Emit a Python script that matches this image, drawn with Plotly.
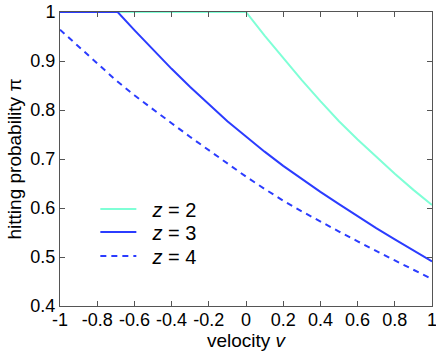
import plotly.graph_objects as go

# velocity grid and hitting probabilities
v_z2 = [-1.0, -0.8, -0.6, -0.4, -0.2, 0.0, 0.1, 0.2, 0.3, 0.4, 0.5, 0.6, 0.7, 0.8, 0.9, 1.0]
p_z2 = [1.0, 1.0, 1.0, 1.0, 1.0, 1.0, 0.952, 0.906, 0.861, 0.818, 0.777, 0.740, 0.704, 0.670, 0.637, 0.606]

v_z3 = [-1.0, -0.9, -0.8, -0.69, -0.6, -0.5, -0.4, -0.3, -0.2, -0.1, 0.0, 0.1, 0.2, 0.3, 0.4, 0.5, 0.6, 0.7, 0.8, 0.9, 1.0]
p_z3 = [1.0, 1.0, 1.0, 1.0, 0.963, 0.923, 0.884, 0.847, 0.811, 0.777, 0.746, 0.715, 0.686, 0.659, 0.633, 0.608, 0.583, 0.559, 0.536, 0.513, 0.491]

v_z4 = [-1.0, -0.9, -0.8, -0.7, -0.6, -0.5, -0.4, -0.3, -0.2, -0.1, 0.0, 0.1, 0.2, 0.3, 0.4, 0.5, 0.6, 0.7, 0.8, 0.9, 1.0]
p_z4 = [0.964, 0.929, 0.894, 0.861, 0.830, 0.801, 0.773, 0.745, 0.718, 0.690, 0.664, 0.639, 0.615, 0.593, 0.572, 0.552, 0.532, 0.512, 0.493, 0.474, 0.455]

x_ticks = [-1, -0.8, -0.6, -0.4, -0.2, 0, 0.2, 0.4, 0.6, 0.8, 1]
x_tick_labels = ["-1", "-0.8", "-0.6", "-0.4", "-0.2", "0", "0.2", "0.4", "0.6", "0.8", "1"]
y_ticks = [0.4, 0.5, 0.6, 0.7, 0.8, 0.9, 1.0]
y_tick_labels = ["0.4", "0.5", "0.6", "0.7", "0.8", "0.9", "1"]

font_fam = "Liberation Sans, Arial, Helvetica, sans-serif"
pad = "\u00a0\u00a0"

fig = go.Figure()
fig.add_trace(go.Scatter(x=v_z2, y=p_z2, mode="lines", name=pad + "<i>z</i> = 2", legend="legend",
                         line=dict(color="#7fffd6", width=2)))
fig.add_trace(go.Scatter(x=v_z3, y=p_z3, mode="lines", name=pad + "<i>z</i> = 3", legend="legend2",
                         line=dict(color="#2b3cff", width=2)))
fig.add_trace(go.Scatter(x=v_z4, y=p_z4, mode="lines", name=pad + "<i>z</i> = 4", legend="legend3",
                         line=dict(color="#2b3cff", width=2, dash="6px,5px")))

axis_common = dict(showgrid=False, zeroline=False, showline=True, mirror="ticks",
                   linecolor="#555555", linewidth=1, ticks="inside", ticklen=5,
                   tickcolor="#555555", automargin=False, ticklabeloverflow="allow",
                   tickfont=dict(family=font_fam, size=18, color="black"))

leg_common = dict(x=0.095, xanchor="left", yanchor="middle", bgcolor="rgba(0,0,0,0)",
                  font=dict(family=font_fam, size=20), itemwidth=36)

fig.update_layout(
    width=436, height=360,
    margin=dict(l=60, r=4, t=12, b=54),
    plot_bgcolor="white", paper_bgcolor="white",
    font=dict(family=font_fam, size=18, color="black"),
    showlegend=True,
    legend=dict(y=0.330, **leg_common),
    legend2=dict(y=0.252, **leg_common),
    legend3=dict(y=0.170, **leg_common),
    xaxis=dict(range=[-1, 1], tickvals=x_ticks, ticktext=x_tick_labels, ticklabelstandoff=-3,
               title=dict(text="velocity <i>v</i>", standoff=0,
                          font=dict(family=font_fam, size=19)), **axis_common),
    yaxis=dict(range=[0.4, 1.0], tickvals=y_ticks, ticktext=y_tick_labels, ticklabelstandoff=0,
               title=dict(text="hitting probability π", standoff=3,
                          font=dict(family=font_fam, size=19)), **axis_common),
)

fig.write_html("out.html", config={"displayModeBar": False},
               post_script="document.body.style.margin='0px';")
